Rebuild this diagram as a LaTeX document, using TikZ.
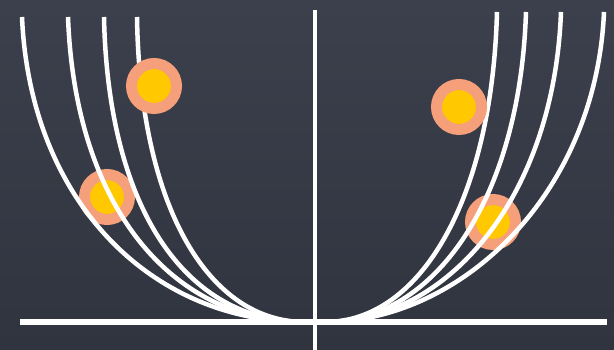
\documentclass[tikz,border=0pt]{standalone}
\usepackage{tikz}
\usepackage{xcolor}
\usetikzlibrary{positioning, calc}
\definecolor{board}{HTML}{3B404C}
\definecolor{boarddark}{HTML}{30343F}
\definecolor{ring}{HTML}{F5A07A}
\definecolor{core}{HTML}{FFC800}

\tikzset{
  chalk/.style={draw=white, line width=4.5pt},
  axis/.style={draw=white, line width=4pt},
  ball/.style={circle, draw=ring, fill=core, line width=11pt, minimum size=45pt, inner sep=0pt}
}

\begin{document}
\begin{tikzpicture}[x=1pt, y=-1pt]
        % board
        \fill[top color=board, bottom color=boarddark] (0,0) rectangle (614,350);
        \useasboundingbox (0,0) rectangle (614,350);
        % lower balls sit under the curves
        \node[ball] (lowleft) at (107,197) {};
        \node[ball] (lowright) at (493,222) {};
        % axes
        \coordinate (xl) at (20,322);
        \coordinate (xr) at (607,322);
        \coordinate (yt) at (315,10);
        \coordinate (yb) at (315,350);
        \draw[axis, line width=5.5pt] (xl) -- (xr);
        \draw[axis] (yt) -- (yb);
        % left curves
        \draw[chalk] (22,17) .. controls (30,200) and (150,322) .. (305,322);
        \draw[chalk] (68,17) .. controls (75,205) and (170,322) .. (305,322);
        \draw[chalk] (104,17) .. controls (108,208) and (185,322) .. (305,322);
        \draw[chalk] (137,17) .. controls (140,210) and (210,322) .. (305,322);
        % right curves
        \draw[chalk] (604,12) .. controls (596,195) and (460,322) .. (325,322);
        \draw[chalk] (561,12) .. controls (554,197) and (448,322) .. (325,322);
        \draw[chalk] (526,12) .. controls (520,198) and (435,322) .. (325,322);
        \draw[chalk] (497,12) .. controls (492,200) and (420,322) .. (325,322);
        % upper balls cover the curves
        \node[ball] (topleft) at (154,86) {};
        \node[ball] (topright) at (459,107) {};
      \end{tikzpicture}
\end{document}
